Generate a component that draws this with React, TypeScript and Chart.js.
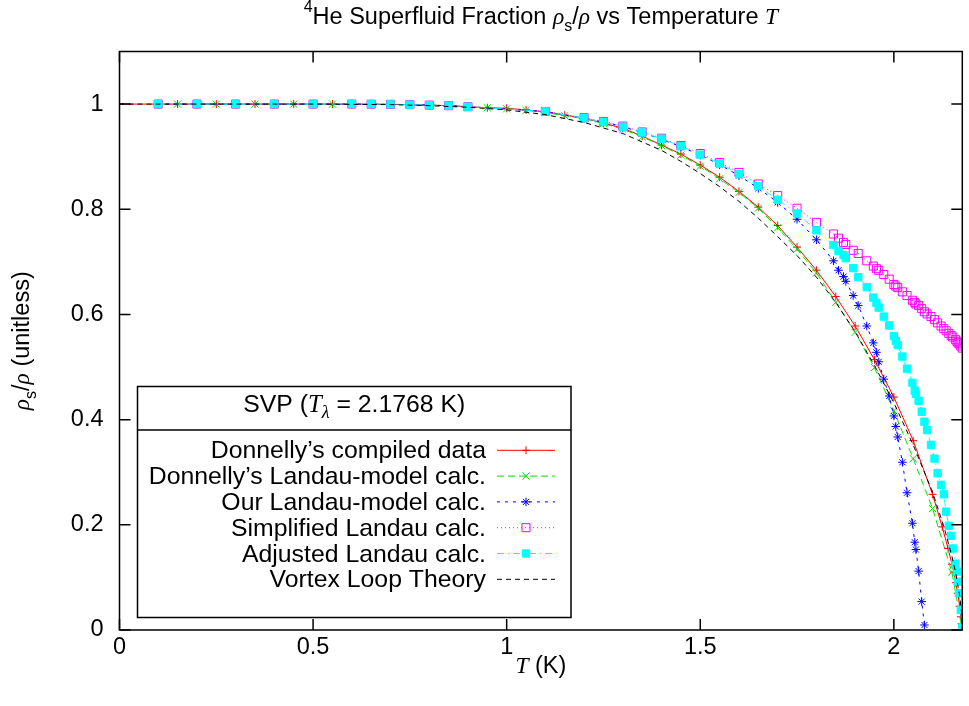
import React, { useEffect, useRef } from 'react';
import { Chart, registerables } from 'chart.js';

Chart.register(...registerables);

// ---------- axis ticks ----------
const xTicks = [0, 0.5, 1, 1.5, 2];
const yTicks = [0, 0.2, 0.4, 0.6, 0.8, 1];
const T_LAMBDA = 2.1768;
const Y_MAX = 1.1;

// ---------- Donnelly's compiled data ----------
const tDonnelly = [0, 0.15, 0.25, 0.35, 0.45, 0.55, 0.6, 0.65, 0.7, 0.75, 0.8, 0.85, 0.9, 0.95, 1.0,
  1.05, 1.1, 1.15, 1.2, 1.25, 1.3, 1.35, 1.4, 1.45, 1.5, 1.55, 1.6, 1.65, 1.7, 1.75, 1.8, 1.85, 1.9, 1.95, 2.0, 2.05, 2.1,
  2.125, 2.14, 2.15, 2.155, 2.16, 2.165, 2.17, 2.173, 2.175, 2.1768];
const rhoDonnellyData = [1, 1, 1, 1, 1, 1, 1, 0.9998, 0.9995, 0.999, 0.998, 0.997, 0.995, 0.993, 0.992,
  0.989, 0.985, 0.979, 0.973, 0.964, 0.954, 0.939, 0.922, 0.905, 0.884, 0.861, 0.834, 0.804, 0.769, 0.728, 0.684, 0.634, 0.578, 0.514, 0.443, 0.360, 0.258,
  0.196, 0.155, 0.125, 0.110, 0.090, 0.070, 0.045, 0.025, 0.012, 0];

// ---------- Donnelly's Landau-model calc. ----------
const tDonnellyLandau = [0.15, 0.25, 0.35, 0.45, 0.55, 0.6, 0.65, 0.7, 0.75, 0.8, 0.85, 0.9, 0.95, 1.0,
  1.05, 1.1, 1.15, 1.2, 1.25, 1.3, 1.35, 1.4, 1.45, 1.5, 1.55, 1.6, 1.65, 1.7, 1.75, 1.8, 1.85, 1.9, 1.95, 2.0, 2.05, 2.1,
  2.15, 2.1768];
const rhoDonnellyLandau = [1, 1, 1, 1, 1, 1, 0.9998, 0.9995, 0.999, 0.998, 0.997, 0.995, 0.993, 0.991,
  0.988, 0.984, 0.978, 0.972, 0.963, 0.952, 0.938, 0.921, 0.903, 0.882, 0.858, 0.832, 0.802, 0.765, 0.724, 0.679, 0.623, 0.566, 0.499, 0.417, 0.326, 0.231,
  0.11, 0];

// ---------- temperatures of our calculations ----------
const tCalc = [0.1, 0.2, 0.3, 0.4, 0.5, 0.6, 0.65, 0.7, 0.75, 0.8, 0.85, 0.9, 1.1, 1.2,
  1.25, 1.3, 1.35, 1.4, 1.45, 1.5, 1.55, 1.6, 1.65, 1.7, 1.75, 1.8,
  1.844, 1.857, 1.87, 1.876, 1.895, 1.908, 1.93, 1.947, 1.955, 1.961, 1.974, 1.988, 2.0, 2.005, 2.01, 2.022, 2.034, 2.048, 2.054, 2.057, 2.064, 2.072, 2.079,
  2.086, 2.096, 2.105, 2.113, 2.122, 2.129, 2.135, 2.142, 2.148, 2.152, 2.159, 2.163, 2.166, 2.169, 2.173, 2.1768];

const rhoOurLandau = [1, 1, 1, 1, 1, 1, 0.9998, 0.9995, 0.999, 0.998, 0.997, 0.995, 0.986, 0.973,
  0.966, 0.957, 0.946, 0.933, 0.919, 0.903, 0.885, 0.864, 0.840, 0.813, 0.781, 0.742,
  0.702, 0.684, 0.672, 0.663, 0.636, 0.617, 0.578, 0.546, 0.528, 0.510, 0.477, 0.445, 0.407, 0.387, 0.367, 0.319, 0.261, 0.203, 0.167, 0.153, 0.112, 0.054, 0.0095];

const rhoSimplified = [1, 1, 1, 1, 1, 1, 0.9998, 0.9995, 0.999, 0.998, 0.997, 0.995, 0.986, 0.974,
  0.967, 0.958, 0.947, 0.935, 0.921, 0.906, 0.889, 0.870, 0.848, 0.826, 0.802, 0.775,
  0.753, 0.745, 0.737, 0.733, 0.722, 0.716, 0.702, 0.692, 0.687, 0.684, 0.676, 0.667, 0.657, 0.654, 0.651, 0.643, 0.636, 0.627, 0.623, 0.620, 0.617, 0.611, 0.605,
  0.601, 0.596, 0.590, 0.584, 0.578, 0.573, 0.569, 0.564, 0.560, 0.557, 0.552, 0.549, 0.546, 0.544, 0.540, 0.536];

const rhoAdjusted = [1, 1, 1, 1, 1, 1, 0.9998, 0.9995, 0.999, 0.998, 0.997, 0.995, 0.986, 0.973,
  0.966, 0.957, 0.946, 0.934, 0.920, 0.904, 0.887, 0.867, 0.844, 0.818, 0.792, 0.760,
  0.732, 0.721, 0.713, 0.707, 0.688, 0.671, 0.652, 0.632, 0.622, 0.613, 0.596, 0.579, 0.559, 0.550, 0.542, 0.520, 0.497, 0.470, 0.455, 0.449, 0.436, 0.415, 0.396,
  0.380, 0.352, 0.326, 0.298, 0.276, 0.258, 0.225, 0.198, 0.179, 0.155, 0.126, 0.111, 0.092, 0.070, 0.038, 0.005];

// ---------- Vortex loop theory ----------
const tVortex = [0, 0.2, 0.4, 0.5, 0.6, 0.7, 0.8, 0.9, 1.0, 1.1, 1.2, 1.3, 1.4, 1.45, 1.5, 1.55, 1.6, 1.65, 1.7, 1.75, 1.8,
  1.85, 1.9, 1.95, 2.0, 2.05, 2.1, 2.13, 2.15, 2.16, 2.17, 2.175, 2.1768];
const rhoVortex = [1, 1, 1, 1, 0.9995, 0.999, 0.997, 0.994, 0.989, 0.980, 0.965, 0.944, 0.912, 0.891, 0.868, 0.843, 0.815, 0.783, 0.748, 0.712, 0.671,
  0.623, 0.567, 0.503, 0.432, 0.352, 0.262, 0.195, 0.14, 0.108, 0.065, 0.032, 0];

const seriesLabels = [
  'Donnelly\u2019s compiled data',
  'Donnelly\u2019s Landau-model calc.',
  'Our Landau-model calc.',
  'Simplified Landau calc.',
  'Adjusted Landau calc.',
  'Vortex Loop Theory',
];

// ---------- styling ----------
const SANS = '"Liberation Sans", Arial, Helvetica, sans-serif';
const SERIF = '"Liberation Serif", "Times New Roman", serif';
const FS = 23.5;
const LFS = 24.8;

type Marker = 'cross' | 'crossRot' | 'star' | 'rect' | 'none';
interface SeriesDef { label: string; t: number[]; v: number[]; color: string; dash: number[]; point: Marker; r: number; filled: boolean; }

const SERIES: SeriesDef[] = [
  { label: seriesLabels[0], t: tDonnelly, v: rhoDonnellyData, color: '#ff0000', dash: [], point: 'cross', r: 4, filled: false },
  { label: seriesLabels[1], t: tDonnellyLandau, v: rhoDonnellyLandau, color: '#00e000', dash: [7, 4], point: 'crossRot', r: 5, filled: false },
  { label: seriesLabels[2], t: tCalc, v: rhoOurLandau, color: '#0000ff', dash: [3, 5], point: 'star', r: 4.3, filled: false },
  { label: seriesLabels[3], t: tCalc, v: rhoSimplified, color: '#ff00ff', dash: [1, 3], point: 'rect', r: 5.7, filled: false },
  { label: seriesLabels[4], t: tCalc, v: rhoAdjusted, color: '#00ffff', dash: [7, 4, 1, 4], point: 'rect', r: 5.2, filled: true },
  { label: seriesLabels[5], t: tVortex, v: rhoVortex, color: '#000000', dash: [5, 4], point: 'none', r: 0, filled: false },
];

type Seg = { t: string; f: string; dy?: number };

function richWidth(ctx: CanvasRenderingContext2D, segs: Seg[]) {
  let w = 0;
  for (const s of segs) { ctx.font = s.f; w += ctx.measureText(s.t).width; }
  return w;
}
function drawRich(ctx: CanvasRenderingContext2D, segs: Seg[], x: number, y: number, align: 'left' | 'center' | 'right') {
  const w = richWidth(ctx, segs);
  let cx = align === 'center' ? x - w / 2 : align === 'right' ? x - w : x;
  ctx.textAlign = 'left';
  ctx.textBaseline = 'alphabetic';
  for (const s of segs) {
    ctx.font = s.f;
    ctx.fillText(s.t, cx, y + (s.dy || 0));
    cx += ctx.measureText(s.t).width;
  }
}

function drawMarker(ctx: CanvasRenderingContext2D, m: Marker, x: number, y: number, r: number, color: string, filled: boolean) {
  ctx.save();
  ctx.setLineDash([]);
  ctx.strokeStyle = color;
  ctx.fillStyle = color;
  ctx.lineWidth = 1;
  ctx.beginPath();
  if (m === 'cross' || m === 'star') {
    ctx.moveTo(x - r, y); ctx.lineTo(x + r, y);
    ctx.moveTo(x, y - r); ctx.lineTo(x, y + r);
  }
  if (m === 'crossRot' || m === 'star') {
    const d = r * Math.SQRT1_2;
    ctx.moveTo(x - d, y - d); ctx.lineTo(x + d, y + d);
    ctx.moveTo(x - d, y + d); ctx.lineTo(x + d, y - d);
  }
  if (m === 'rect') {
    const d = r * Math.SQRT1_2;
    ctx.rect(x - d, y - d, 2 * d, 2 * d);
    if (filled) ctx.fill();
  }
  ctx.stroke();
  ctx.restore();
}

const f = (size: number, family: string, italic = false) => `${italic ? 'italic ' : ''}${size}px ${family}`;

const decorPlugin = {
  id: 'decor',
  beforeDraw(chart: any) {
    const ctx = chart.ctx as CanvasRenderingContext2D;
    ctx.save();
    ctx.fillStyle = '#ffffff';
    ctx.fillRect(0, 0, chart.width, chart.height);
    ctx.restore();
  },
  afterDraw(chart: any) {
    const ctx = chart.ctx as CanvasRenderingContext2D;
    const { left, right, top, bottom } = chart.chartArea;
    const xs = chart.scales.x;
    const ys = chart.scales.y;
    ctx.save();
    ctx.strokeStyle = '#000';
    ctx.fillStyle = '#000';
    ctx.lineWidth = 1.5;
    ctx.setLineDash([]);
    // frame
    ctx.strokeRect(left, top, right - left, bottom - top);
    // ticks (inward, mirrored)
    const TL = 11;
    ctx.beginPath();
    for (const v of xTicks) {
      const px = xs.getPixelForValue(v);
      ctx.moveTo(px, bottom); ctx.lineTo(px, bottom - TL);
      ctx.moveTo(px, top); ctx.lineTo(px, top + TL);
    }
    for (const v of yTicks) {
      const py = ys.getPixelForValue(v);
      ctx.moveTo(left, py); ctx.lineTo(left + TL, py);
      ctx.moveTo(right, py); ctx.lineTo(right - TL, py);
    }
    ctx.stroke();

    // title
    const cx = (left + right) / 2;
    drawRich(ctx, [
      { t: '4', f: f(16, SANS), dy: -12 },
      { t: 'He Superfluid Fraction ', f: f(FS, SANS) },
      { t: '\u03c1', f: f(FS, SERIF, true) },
      { t: 's', f: f(16, SANS), dy: 7 },
      { t: '/', f: f(FS, SANS) },
      { t: '\u03c1', f: f(FS, SERIF, true) },
      { t: ' vs Temperature ', f: f(FS, SANS) },
      { t: 'T', f: f(FS, SERIF, true) },
    ], cx, 24, 'center');

    // x-axis title
    drawRich(ctx, [
      { t: 'T', f: f(FS, SERIF, true) },
      { t: ' (K)', f: f(FS, SANS) },
    ], cx, 673, 'center');

    // y-axis title (rotated)
    ctx.save();
    ctx.translate(29, (top + bottom) / 2);
    ctx.rotate(-Math.PI / 2);
    drawRich(ctx, [
      { t: '\u03c1', f: f(FS, SERIF, true) },
      { t: 's', f: f(16, SANS), dy: 7 },
      { t: '/', f: f(FS, SANS) },
      { t: '\u03c1', f: f(FS, SERIF, true) },
      { t: ' (unitless)', f: f(FS, SANS) },
    ], 0, 0, 'center');
    ctx.restore();

    // legend box
    const L = 137.5, R = 571, T = 386.5, B = 617.5, SEP = 430;
    ctx.fillStyle = '#fff';
    ctx.fillRect(L, T, R - L, B - T);
    ctx.strokeStyle = '#000';
    ctx.lineWidth = 1.5;
    ctx.strokeRect(L, T, R - L, B - T);
    ctx.beginPath();
    ctx.moveTo(L, SEP); ctx.lineTo(R, SEP);
    ctx.stroke();
    ctx.fillStyle = '#000';
    drawRich(ctx, [
      { t: 'SVP (', f: f(LFS, SANS) },
      { t: 'T', f: f(LFS, SERIF, true) },
      { t: '\u03bb', f: f(18, SERIF, true), dy: 6 },
      { t: ' = 2.1768 K)', f: f(LFS, SANS) },
    ], (L + R) / 2, 412, 'center');

    const textRight = 486;
    const x0 = 497, x1 = 555;
    SERIES.forEach((s, i) => {
      const base = 458.3 + i * 25.8;
      ctx.fillStyle = '#000';
      drawRich(ctx, [{ t: s.label, f: f(LFS, SANS) }], textRight, base, 'right');
      const ly = base - 8;
      ctx.save();
      ctx.strokeStyle = s.color;
      ctx.lineWidth = 1;
      ctx.setLineDash(s.dash);
      ctx.beginPath();
      ctx.moveTo(x0, ly); ctx.lineTo(x1, ly);
      ctx.stroke();
      ctx.restore();
      if (s.point !== 'none') drawMarker(ctx, s.point, (x0 + x1) / 2, ly, s.r, s.color, s.filled);
    });
    ctx.restore();
  },
};

export default function App() {
  const ref = useRef<HTMLCanvasElement>(null);
  useEffect(() => {
    const canvas = ref.current;
    if (!canvas) return;
    const datasets = SERIES.map((s, i) => ({
      label: s.label,
      data: s.v.map((v, j) => ({ x: s.t[j], y: v })),
      borderColor: s.color,
      backgroundColor: s.color,
      borderWidth: 1,
      borderDash: s.dash,
      pointStyle: s.point === 'none' ? false : s.point,
      pointRadius: s.point === 'none' ? 0 : s.r,
      pointHoverRadius: s.point === 'none' ? 0 : s.r,
      pointBorderColor: s.color,
      pointBackgroundColor: s.filled ? s.color : 'rgba(0,0,0,0)',
      pointBorderWidth: 1,
      tension: 0,
      fill: false,
      order: 5 - i,
    }));
    const tickFont = { family: SANS, size: FS };
    const chart = new Chart(canvas, {
      type: 'line',
      data: { datasets } as any,
      options: {
        responsive: false,
        animation: false,
        devicePixelRatio: 1,
        events: [],
        layout: { padding: { left: 0, right: 1, top: 51.5, bottom: 0 } },
        plugins: { legend: { display: false }, tooltip: { enabled: false }, title: { display: false } },
        scales: {
          x: {
            type: 'linear',
            min: 0,
            max: T_LAMBDA,
            grid: { display: false, drawTicks: false },
            border: { display: false },
            afterBuildTicks: (s: any) => { s.ticks = xTicks.map((v) => ({ value: v })); },
            afterFit: (s: any) => { s.height = 76; },
            ticks: { color: '#000', font: tickFont, padding: 3, maxRotation: 0, autoSkip: false, callback: (v: any) => String(v) },
          },
          y: {
            type: 'linear',
            min: 0,
            max: Y_MAX,
            grid: { display: false, drawTicks: false },
            border: { display: false },
            afterBuildTicks: (s: any) => { s.ticks = yTicks.map((v) => ({ value: v })); },
            afterFit: (s: any) => { s.width = 119.5; },
            ticks: { color: '#000', font: tickFont, padding: 16, autoSkip: false, callback: (v: any) => String(v) },
          },
        },
      } as any,
      plugins: [decorPlugin],
    });
    return () => chart.destroy();
  }, []);
  return (
    <div style={{ position: 'absolute', left: 0, top: 0, width: 969, height: 706 }}>
      <canvas ref={ref} width={969} height={706} style={{ width: 969, height: 706, display: 'block' }} />
    </div>
  );
}
